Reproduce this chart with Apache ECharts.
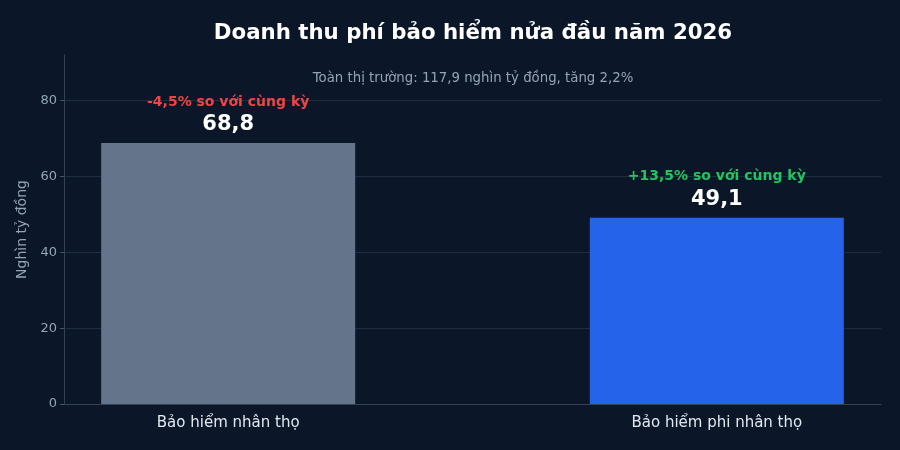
<!DOCTYPE html>
<html>
<head>
<meta charset="utf-8">
<script src="https://cdn.jsdelivr.net/npm/echarts@6/dist/echarts.min.js"></script>
<style>
  html, body { margin: 0; padding: 0; background: #0b1728; }
  #main { width: 900px; height: 450px; }
</style>
</head>
<body>
<div id="main"></div>
<script>
// du lieu
const categories = ['Bảo hiểm nhân thọ', 'Bảo hiểm phi nhân thọ'];
const values = [68.8, 49.1];
const valueLabels = ['68,8', '49,1'];
const changeLabels = ['-4,5% so với cùng kỳ', '+13,5% so với cùng kỳ'];
const changeColors = ['#ef4444', '#22c55e'];
const barColors = ['#64748b', '#2563eb'];
const yTicks = [0, 20, 40, 60, 80];

const FONT = 'DejaVu Sans';

var myChart = echarts.init(document.getElementById('main'));
myChart.setOption({
  backgroundColor: '#0b1728',
  textStyle: { fontFamily: FONT },
  title: [
    {
      text: 'Doanh thu phí bảo hiểm nửa đầu năm 2026',
      left: 468, top: 18, textAlign: 'center',
      textStyle: { color: '#ffffff', fontSize: 21.3, fontWeight: 'bold', fontFamily: FONT }
    },
    {
      text: 'Toàn thị trường: 117,9 nghìn tỷ đồng, tăng 2,2%',
      left: 468, top: 67, textAlign: 'center',
      textStyle: { color: '#94a3b8', fontSize: 13.3, fontWeight: 'normal', fontFamily: FONT }
    }
  ],
  grid: { left: 64, right: 19, top: 55, bottom: 46 },
  xAxis: {
    type: 'value',
    min: -0.336, max: 1.336,
    axisLine: { show: true, onZero: false, lineStyle: { color: '#334155' } },
    axisTick: { show: false },
    splitLine: { show: false },
    axisLabel: {
      customValues: [0, 1],
      formatter: v => categories[Math.round(v)],
      color: '#e2e8f0', fontSize: 15, margin: 12, fontFamily: FONT
    }
  },
  yAxis: {
    type: 'value',
    min: 0, max: 92,
    name: 'Nghìn tỷ đồng',
    nameLocation: 'middle',
    nameGap: 31,
    nameTextStyle: { color: '#94a3b8', fontSize: 14, fontFamily: FONT },
    axisLine: { show: true, onZero: false, lineStyle: { color: '#334155' } },
    axisTick: { show: true, length: 4, customValues: yTicks, lineStyle: { color: '#475569' } },
    axisLabel: { customValues: yTicks, color: '#94a3b8', fontSize: 13, margin: 7, fontFamily: FONT },
    splitLine: { show: true, lineStyle: { color: '#1e2d42', width: 1 } }
  },
  series: [{
    type: 'bar',
    barWidth: 254,
    data: values.map((v, i) => ({
      value: [i, v],
      itemStyle: { color: barColors[i] },
      label: {
        show: true,
        position: 'top',
        distance: 6,
        formatter: '{c|' + changeLabels[i] + '}\n{v|' + valueLabels[i] + '}',
        rich: {
          c: { color: changeColors[i], fontSize: 14, fontWeight: 'bold', fontFamily: FONT, lineHeight: 22 },
          v: { color: '#ffffff', fontSize: 21, fontWeight: 'bold', fontFamily: FONT, lineHeight: 24 }
        }
      }
    }))
  }]
});
</script>
</body>
</html>
